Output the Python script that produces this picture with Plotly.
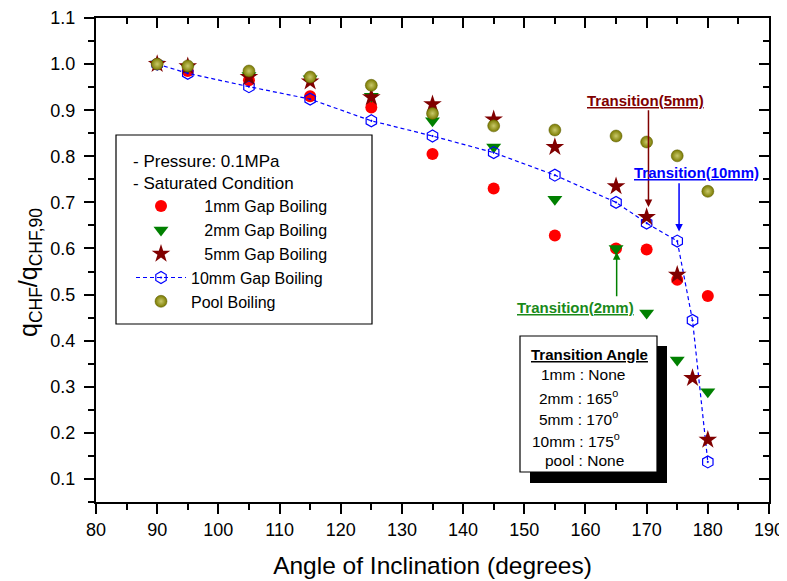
import plotly.graph_objects as go

# ---------------- data ----------------
angles = [90, 95, 105, 115, 125, 135, 145, 155, 165, 170, 175, 180]
angles_fine = [90, 95, 105, 115, 125, 135, 145, 155, 165, 170, 175, 177.5, 180]

gap_1mm = [1.0, 0.985, 0.965, 0.93, 0.906, 0.805, 0.73, 0.628, 0.60, 0.598, 0.532, 0.497]
gap_2mm = [1.0, 0.993, 0.975, 0.968, 0.93, 0.877, 0.82, 0.707, 0.60, 0.46, 0.358, 0.289]
gap_5mm = [1.0, 0.995, 0.972, 0.962, 0.928, 0.913, 0.88, 0.82, 0.735, 0.668, 0.543, 0.319, 0.185]
gap_10mm = [1.0, 0.98, 0.951, 0.924, 0.877, 0.844, 0.808, 0.759, 0.70, 0.655, 0.616, 0.444, 0.137]
pool = [1.0, 0.996, 0.985, 0.972, 0.954, 0.893, 0.866, 0.857, 0.844, 0.831, 0.801, 0.724]

x_ticks = [80, 90, 100, 110, 120, 130, 140, 150, 160, 170, 180, 190]
y_ticks = [0.1, 0.2, 0.3, 0.4, 0.5, 0.6, 0.7, 0.8, 0.9, 1.0, 1.1]
y_tick_text = ["0.1", "0.2", "0.3", "0.4", "0.5", "0.6", "0.7", "0.8", "0.9", "1.0", "1.1"]

transition_lines = ["1mm : None", "2mm : 165<sup>o</sup>", "5mm : 170<sup>o</sup>",
                    "10mm : 175<sup>o</sup>", "pool : None"]

FONT = "Arial, Liberation Sans, sans-serif"
MAROON = "#800000"
GREEN = "#008000"
BLUE = "#0000ff"

# page body has an 8px margin; work in reference-window pixels and compensate
OFF = 8
W, H = 787 - OFF, 581 - OFF
L, R, T, B = 96, 769, 18, 502          # plot frame in reference pixels
def px(xp):
    return (xp - L) / (R - L)
def py(yp):
    return (B - yp) / (B - T)

fig = go.Figure()

fig.add_trace(go.Scatter(
    x=angles, y=gap_1mm, mode="markers", name="   1mm Gap Boiling",
    marker=dict(symbol="circle", size=12, color="#ff0000"), legendrank=1))
fig.add_trace(go.Scatter(
    x=angles, y=gap_2mm, mode="markers", name="   2mm Gap Boiling",
    marker=dict(symbol="triangle-down", size=13, color=GREEN), legendrank=2))
fig.add_trace(go.Scatter(
    x=angles_fine, y=gap_10mm, mode="lines+markers", name="10mm Gap Boiling",
    line=dict(color=BLUE, width=1.2, dash="4px,3px"),
    marker=dict(symbol="hexagon-open-dot", size=12, color=BLUE, line=dict(width=1.2, color=BLUE)),
    legendrank=4))
fig.add_trace(go.Scatter(
    x=angles_fine, y=gap_5mm, mode="markers", name="   5mm Gap Boiling",
    marker=dict(symbol="star", size=14, color=MAROON), legendrank=3))
fig.add_trace(go.Scatter(
    x=angles, y=pool, mode="markers", name="Pool Boiling",
    marker=dict(symbol="circle", size=12, color="#7a7a00",
                gradient=dict(type="radial", color="#c9c96a"),
                line=dict(width=0.5, color="#5a5a00")),
    legendrank=5))

# helper trace so the mirrored inside-tick axes are drawn
fig.add_trace(go.Scatter(x=[None], y=[None], xaxis="x2", yaxis="y2",
                         showlegend=False, hoverinfo="skip"))

# ---------------- annotations ----------------
ann = []
ann.append(dict(x=170.3, y=0.69, ax=170.3, ay=0.903, xref="x", yref="y", axref="x", ayref="y",
                text="", showarrow=True, arrowhead=2, arrowsize=1, arrowwidth=1.5, arrowcolor=MAROON))
ann.append(dict(x=175.3, y=0.637, ax=175.3, ay=0.745, xref="x", yref="y", axref="x", ayref="y",
                text="", showarrow=True, arrowhead=2, arrowsize=1, arrowwidth=1.5, arrowcolor=BLUE))
ann.append(dict(x=165.1, y=0.592, ax=165.1, ay=0.493, xref="x", yref="y", axref="x", ayref="y",
                text="", showarrow=True, arrowhead=2, arrowsize=1, arrowwidth=1.5, arrowcolor=GREEN))
ann.append(dict(x=169.8, y=0.92, xref="x", yref="y", xanchor="center", showarrow=False,
                text="<b><u>Transition(5mm)</u></b>", font=dict(family=FONT, size=15, color=MAROON)))
ann.append(dict(x=178.2, y=0.764, xref="x", yref="y", xanchor="center", showarrow=False,
                text="<b><u>Transition(10mm)</u></b>", font=dict(family=FONT, size=15, color=BLUE)))
ann.append(dict(x=158.3, y=0.473, xref="x", yref="y", xanchor="center", showarrow=False,
                text="<b><u>Transition(2mm)</u></b>", font=dict(family=FONT, size=15, color="#1a8a1a")))

ann.append(dict(x=px(589), y=py(354), xref="paper", yref="paper", xanchor="center", yanchor="middle",
                showarrow=False, text="<b><u>Transition Angle</u></b>",
                font=dict(family=FONT, size=15, color="black")))
line_x = [539, 537, 537, 530, 543]
line_y = [375, 397, 418, 440, 460]
for t, lx, ly in zip(transition_lines, line_x, line_y):
    ann.append(dict(x=px(lx), y=py(ly), xref="paper", yref="paper",
                    xanchor="left", yanchor="middle", showarrow=False, text=t,
                    font=dict(family=FONT, size=15.5, color="black")))

# y axis title (rotated text)
ann.append(dict(x=px(30), y=py(273), xref="paper", yref="paper", xanchor="center", yanchor="middle",
                textangle=-90, showarrow=False,
                text="q<sub>CHF</sub>/q<sub>CHF,90</sub>", font=dict(family=FONT, size=25, color="black")))

shapes = [
    dict(type="rect", xref="paper", yref="paper", x0=px(116), x1=px(372),
         y0=py(324), y1=py(135), line=dict(color="black", width=1.2),
         fillcolor="rgba(0,0,0,0)", layer="above"),
    dict(type="rect", xref="paper", yref="paper", x0=px(530), x1=px(667),
         y0=py(483), y1=py(346), line=dict(width=0),
         fillcolor="black", layer="above"),
    dict(type="rect", xref="paper", yref="paper", x0=px(520), x1=px(657),
         y0=py(472), y1=py(336), line=dict(color="black", width=1.2),
         fillcolor="white", layer="above"),
]

fig.update_layout(
    width=W, height=H,
    margin=dict(l=L - OFF, r=787 - R, t=T - OFF, b=581 - B),
    paper_bgcolor="white", plot_bgcolor="white",
    font=dict(family=FONT, size=16, color="black"),
    showlegend=True,
    legend=dict(
        x=px(131), y=py(145), xanchor="left", yanchor="top",
        bgcolor="rgba(0,0,0,0)", borderwidth=0,
        font=dict(family=FONT, size=16, color="black"),
        title=dict(text="- Pressure: 0.1MPa<br>- Saturated Condition",
                   font=dict(family=FONT, size=17, color="black")),
        tracegroupgap=0, itemwidth=50,
    ),
    xaxis=dict(
        range=[80, 190], tickvals=x_ticks, showgrid=False, zeroline=False, automargin=False,
        showline=True, linecolor="black", linewidth=2, mirror=True,
        ticks="outside", ticklen=10, tickwidth=1.5, tickcolor="black",
        minor=dict(dtick=5, ticks="outside", ticklen=6, tickwidth=1.5, tickcolor="black", showgrid=False),
        tickfont=dict(family=FONT, size=18),
        title=dict(text="Angle of Inclination (degrees)", font=dict(family=FONT, size=24.5), standoff=18),
    ),
    yaxis=dict(
        range=[0.05, 1.1], tickvals=y_ticks, ticktext=y_tick_text, showgrid=False, zeroline=False,
        automargin=False,
        showline=True, linecolor="black", linewidth=2, mirror=True,
        ticks="outside", ticklen=10, tickwidth=1.5, tickcolor="black",
        minor=dict(dtick=0.05, tick0=0.05, ticks="outside", ticklen=6, tickwidth=1.5, tickcolor="black",
                   showgrid=False),
        tickfont=dict(family=FONT, size=18), ticklabelstandoff=5,
    ),
    xaxis2=dict(
        overlaying="x", side="top", range=[80, 190], tickvals=x_ticks, showticklabels=False,
        showgrid=False, zeroline=False, showline=False, automargin=False,
        ticks="inside", ticklen=10, tickwidth=1.5, tickcolor="black",
        minor=dict(dtick=5, ticks="inside", ticklen=6, tickwidth=1.5, tickcolor="black", showgrid=False),
    ),
    yaxis2=dict(
        overlaying="y", side="right", range=[0.05, 1.1], tickvals=y_ticks, showticklabels=False,
        showgrid=False, zeroline=False, showline=False, automargin=False,
        ticks="inside", ticklen=10, tickwidth=1.5, tickcolor="black",
        minor=dict(dtick=0.05, tick0=0.05, ticks="inside", ticklen=6, tickwidth=1.5, tickcolor="black",
                   showgrid=False),
    ),
    annotations=ann,
    shapes=shapes,
)

fig.write_html("out.html")
